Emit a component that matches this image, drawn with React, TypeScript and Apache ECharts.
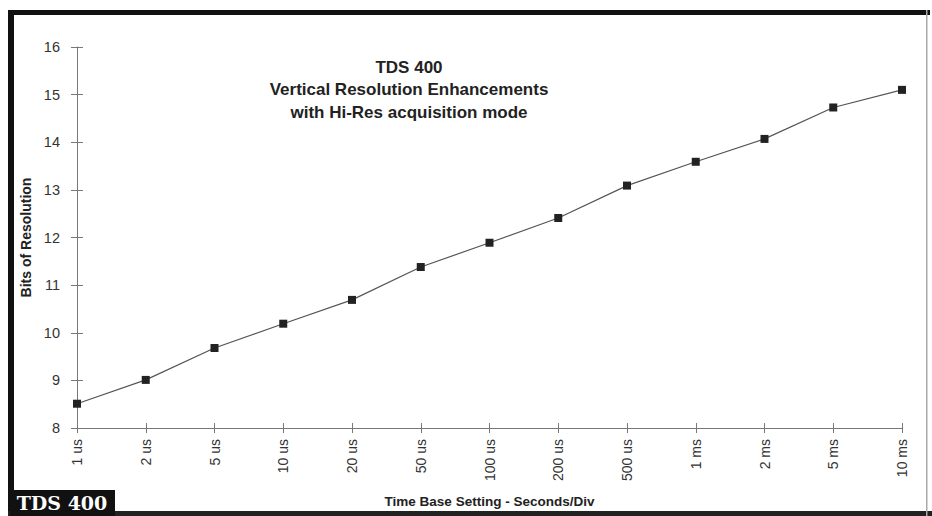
import React, { useEffect, useRef } from "react";
import * as echarts from "echarts";

const categories = ["1 us", "2 us", "5 us", "10 us", "20 us", "50 us", "100 us", "200 us", "500 us", "1 ms", "2 ms", "5 ms", "10 ms"];
const bitsOfResolution = [8.51, 9.01, 9.68, 10.19, 10.69, 11.38, 11.89, 12.41, 13.09, 13.59, 14.07, 14.73, 15.1];
const yTicks = { min: 8, max: 16, interval: 1 };
const titleLines = ["TDS 400", "Vertical Resolution Enhancements", "with Hi-Res acquisition mode"];

export default function App() {
  const ref = useRef<HTMLDivElement>(null);
  useEffect(() => {
    if (!ref.current) return;
    const chart = echarts.init(ref.current, null, { renderer: "svg" });
    const axisColor = "#777";
    const labelColor = "#333";
    const font = "Liberation Sans";
    const baseY = (extra: any) => ({
      type: "value",
      min: yTicks.min,
      max: yTicks.max,
      interval: yTicks.interval,
      splitLine: { show: false },
      ...extra,
    });
    const baseX = (extra: any) => ({
      type: "category",
      data: categories,
      boundaryGap: false,
      ...extra,
    });
    chart.setOption({
      animation: false,
      backgroundColor: "#fff",
      grid: { left: 77, right: 30, top: 47, bottom: 88 },
      title: {
        text: titleLines.join("\n"),
        left: 404,
        top: 51,
        textAlign: "center",
        textStyle: { fontFamily: font, fontWeight: "bold", fontSize: 17, color: "#222", lineHeight: 22.5 },
      },
      xAxis: [
        baseX({
          name: "Time Base Setting - Seconds/Div",
          nameLocation: "middle",
          nameGap: 66,
          nameTextStyle: { fontFamily: font, fontWeight: "bold", fontSize: 13.5, color: "#222" },
          axisLine: { lineStyle: { color: axisColor, width: 1 } },
          axisTick: { show: true, length: 5, interval: 0, lineStyle: { color: axisColor } },
          axisLabel: { rotate: 90, interval: 0, margin: 11, fontFamily: font, fontSize: 14, color: labelColor },
        }),
        baseX({
          position: "bottom",
          axisLine: { show: false },
          axisTick: { show: true, inside: true, length: 5, interval: 0, lineStyle: { color: axisColor } },
          axisLabel: { show: false },
        }),
      ],
      yAxis: [
        baseY({
          name: "Bits of Resolution",
          nameLocation: "middle",
          nameGap: 40,
          nameTextStyle: { fontFamily: font, fontWeight: "bold", fontSize: 14, color: "#222" },
          axisLine: { show: true, lineStyle: { color: axisColor, width: 1 } },
          axisTick: { show: true, length: 6, lineStyle: { color: axisColor } },
          axisLabel: { margin: 17, fontFamily: font, fontSize: 14.5, color: labelColor },
        }),
        baseY({
          position: "left",
          axisLine: { show: false },
          axisTick: { show: true, inside: true, length: 6, lineStyle: { color: axisColor } },
          axisLabel: { show: false },
        }),
      ],
      series: [
        {
          type: "line",
          data: bitsOfResolution,
          xAxisIndex: 0,
          yAxisIndex: 0,
          symbol: "rect",
          symbolSize: 8,
          itemStyle: { color: "#222" },
          lineStyle: { color: "#555", width: 1.2 },
        },
      ],
      graphic: [
        { type: "rect", shape: { x: 8, y: 10, width: 922, height: 5 }, style: { fill: "#111" } },
        { type: "rect", shape: { x: 8, y: 10, width: 6, height: 506 }, style: { fill: "#111" } },
        { type: "rect", shape: { x: 8, y: 511, width: 924, height: 5 }, style: { fill: "#222" } },
        { type: "rect", shape: { x: 926, y: 10, width: 1.5, height: 506 }, style: { fill: "#aaa" } },
        { type: "rect", shape: { x: 10, y: 490, width: 105, height: 26 }, style: { fill: "#111" } },
        {
          type: "text",
          x: 62,
          y: 503,
          style: {
            text: "TDS 400",
            fill: "#fff",
            font: "bold 19px 'DejaVu Serif'",
            align: "center",
            verticalAlign: "middle",
          },
        },
      ],
    });
    return () => chart.dispose();
  }, []);
  return <div ref={ref} style={{ position: "fixed", left: 0, top: 0, width: 932, height: 516 }} />;
}
